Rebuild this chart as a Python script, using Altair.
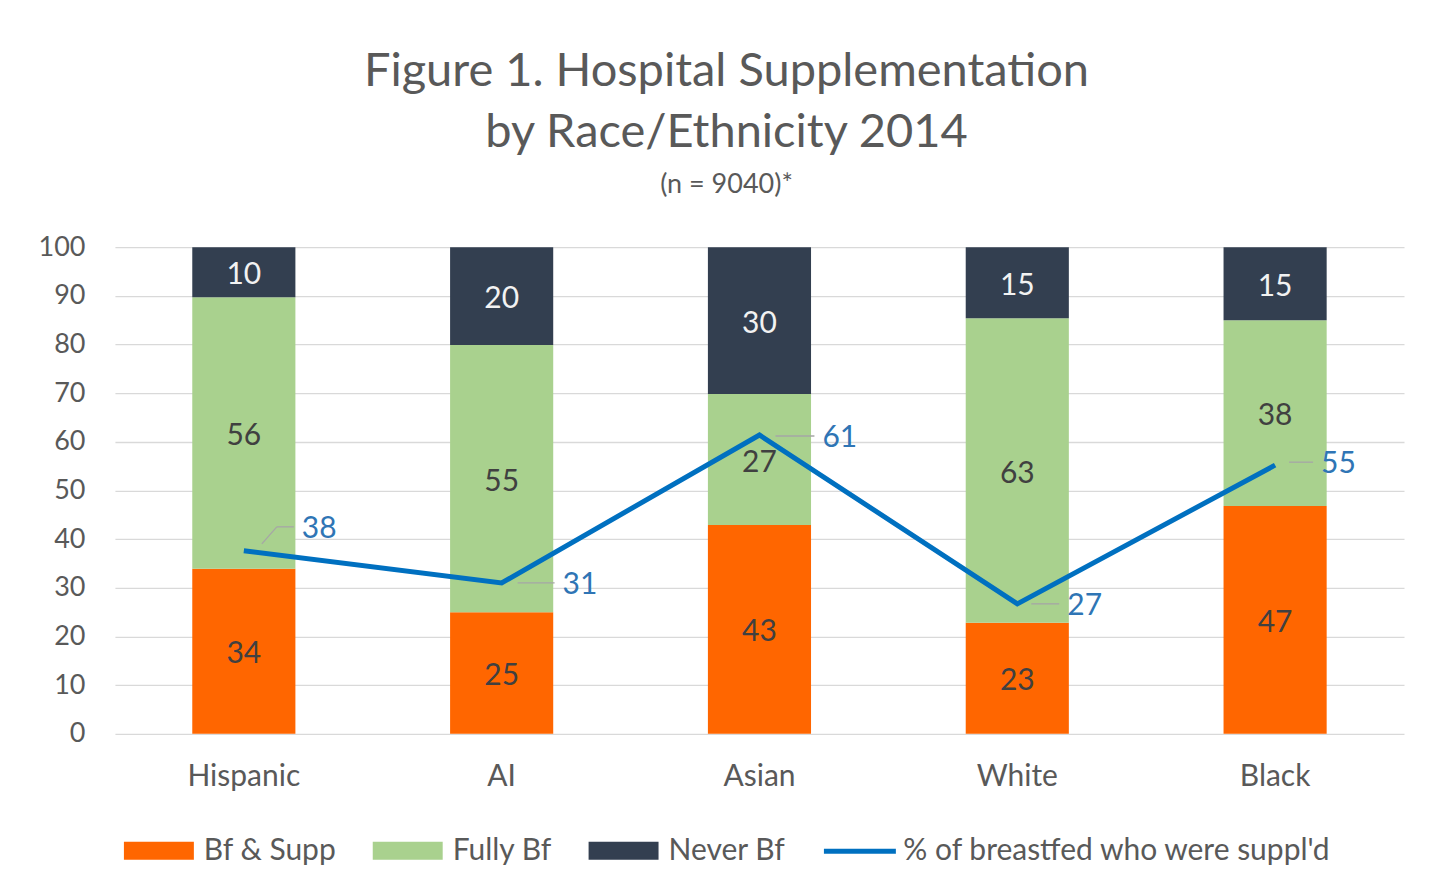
import altair as alt
import pandas as pd

categories = ["Hispanic", "AI", "Asian", "White", "Black"]
bf_supp = [33.9, 25.0, 42.9, 22.8, 46.8]
fully_bf = [55.8, 54.9, 26.9, 62.6, 38.2]
never_bf = [10.3, 20.1, 30.2, 14.6, 15.0]
pct_supp = [37.6, 31.0, 61.4, 26.7, 55.2]
series_names = ["Bf & Supp", "Fully Bf", "Never Bf"]
series_colors = ["#FF6600", "#A9D18E", "#333F50"]
line_name = "% of breastfed who were suppl'd"
y_ticks = list(range(0, 101, 10))

FONT = "Lato"
GREY = "#595959"

rows = []
for i, c in enumerate(categories):
    base = 0.0
    for j, (s, vals) in enumerate(zip(series_names, [bf_supp, fully_bf, never_bf])):
        v = vals[i]
        rows.append({"cat": c, "series": s, "order": j, "value": v,
                     "y0": base, "y1": base + v, "mid": base + v / 2})
        base += v
bars_df = pd.DataFrame(rows)
line_df = pd.DataFrame({"cat": categories, "pct": pct_supp, "series": [line_name] * len(categories)})

xenc = alt.X("cat:N", sort=categories,
             scale=alt.Scale(paddingInner=0.6, paddingOuter=0.3),
             axis=alt.Axis(title=None, labelAngle=0, ticks=False, domain=False,
                           labelPadding=28, labelFontSize=30, labelColor=GREY, labelFont=FONT))
yscale = alt.Scale(domain=[0, 100], nice=False)

bars = alt.Chart(bars_df).mark_bar().encode(
    x=xenc,
    y=alt.Y("y0:Q", scale=yscale,
            axis=alt.Axis(title=None, values=y_ticks, grid=True, gridColor="#D9D9D9", gridWidth=1.3,
                          domain=False, ticks=False, labelPadding=30, labelFontSize=27,
                          labelColor=GREY, labelFont=FONT)),
    y2="y1:Q",
    color=alt.Color("series:N", sort=series_names,
                    scale=alt.Scale(domain=series_names, range=series_colors),
                    legend=alt.Legend(orient="none", legendX=9, legendY=569, direction="horizontal",
                                      title=None, symbolType="M-1,-0.257H1V0.257H-1Z",
                                      symbolSize=4900, symbolStrokeWidth=0, symbolOpacity=1,
                                      labelFontSize=30, labelColor=GREY, labelFont=FONT,
                                      labelLimit=0, columnPadding=36, labelOffset=10)),
)

bar_text = alt.Chart(bars_df).mark_text(fontSize=30, font=FONT, baseline="middle", dy=3).encode(
    x=alt.X("cat:N", sort=categories),
    y=alt.Y("mid:Q", scale=yscale),
    text=alt.Text("value:Q", format=".0f"),
    color=alt.condition(alt.datum.series == "Never Bf", alt.value("#F2F2F2"), alt.value("#404040")),
)

line = alt.Chart(line_df).mark_line(strokeWidth=5).encode(
    x=alt.X("cat:N", sort=categories),
    y=alt.Y("pct:Q", scale=yscale),
    stroke=alt.Stroke("series:N", scale=alt.Scale(domain=[line_name], range=["#0070C0"]),
                      legend=alt.Legend(orient="none", legendX=707, legendY=566, title=None,
                                        symbolSize=5184, symbolStrokeWidth=5,
                                        labelFontSize=30, labelColor=GREY, labelFont=FONT,
                                        labelLimit=0, labelOffset=5)),
)

# label styling per category: (dx, dy, leader start)
label_style = {
    "Hispanic": (58, -24, 33),
    "AI": (61, 0, 16),
    "Asian": (63, 1, 16),
    "White": (50, 0, 14),
    "Black": (46, -3, 14),
}

layers = [bars, bar_text, line]
for cat, (dx, dy, lead) in label_style.items():
    sub = line_df[line_df["cat"] == cat]
    base = alt.Chart(sub)
    layers.append(base.mark_rule(color="#A6A6A6", strokeWidth=1.3, xOffset=lead, x2Offset=dx - 8,
                                 yOffset=dy, y2Offset=dy).encode(
        x=alt.X("cat:N", sort=categories), x2="cat:N",
        y=alt.Y("pct:Q", scale=yscale), y2="pct:Q"))
    if cat == "Hispanic":
        layers.append(base.mark_rule(color="#A6A6A6", strokeWidth=1.3, xOffset=18, x2Offset=lead,
                                     yOffset=-7, y2Offset=dy).encode(
            x=alt.X("cat:N", sort=categories), x2="cat:N",
            y=alt.Y("pct:Q", scale=yscale), y2="pct:Q"))
    layers.append(base.mark_text(align="left", baseline="middle", dx=dx, dy=dy + 2, fontSize=30,
                                 font=FONT, color="#2F75B5").encode(
        x=alt.X("cat:N", sort=categories),
        y=alt.Y("pct:Q", scale=yscale),
        text=alt.Text("pct:Q", format=".0f")))

chart = alt.layer(*layers).properties(
    width=1290, height=487,
    background="white",
    autosize=alt.AutoSizeParams(type="none"),
    padding={"left": 107, "top": 239, "right": 20, "bottom": 145},
    title=alt.TitleParams(
        text=["Figure 1. Hospital Supplementation", "by Race/Ethnicity 2014"],
        subtitle="(n = 9040)*",
        fontSize=47, font=FONT, fontWeight="normal", color=GREY, lineHeight=61,
        subtitleFont=FONT, subtitleFontSize=27, subtitleColor=GREY, subtitlePadding=15,
        anchor="middle", dx=-33, offset=34),
).configure_view(stroke=None)

chart.save("out.html", embed_options={"renderer": "svg", "actions": False})
